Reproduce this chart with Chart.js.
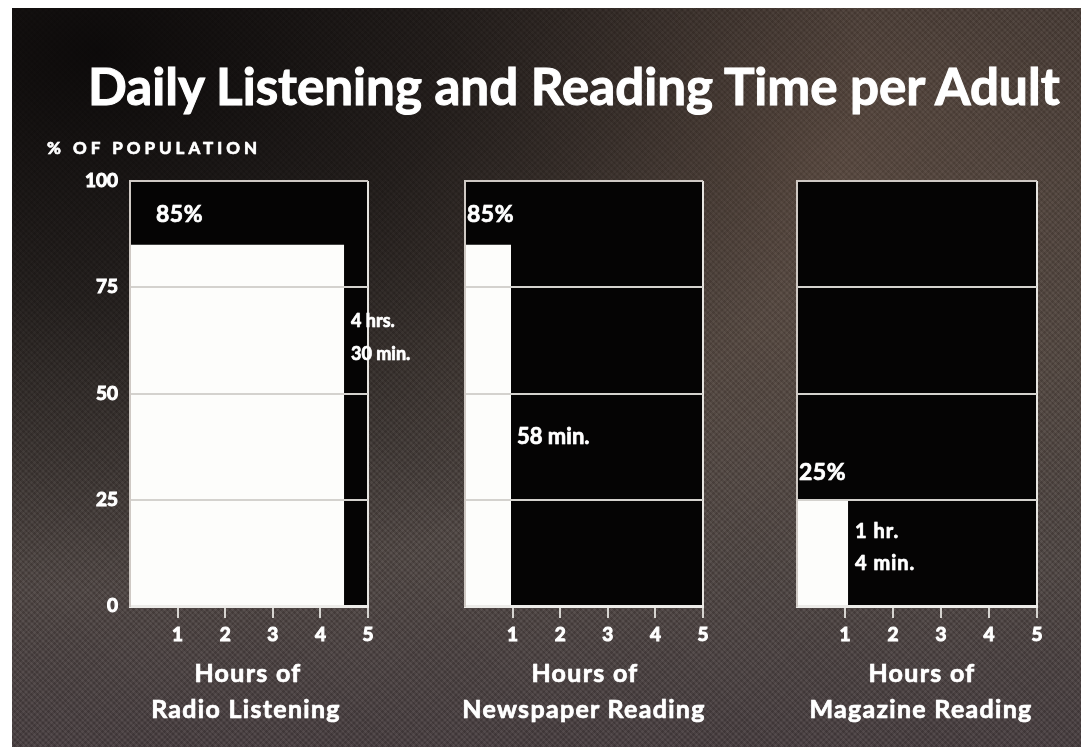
<!DOCTYPE html>
<html>
<head>
<meta charset="utf-8">
<script src="https://cdn.jsdelivr.net/npm/chart.js@4.4.1/dist/chart.umd.min.js"></script>
<style>
  html,body{margin:0;padding:0;background:#fff;}
  #stage{position:relative;width:1081px;height:747px;overflow:hidden;background:#fff;}
  #bg{position:absolute;left:12px;top:8px;right:0;bottom:0;
    background:
      radial-gradient(ellipse at 8% 6%, rgba(10,8,8,0.95) 0%, rgba(10,8,8,0.6) 25%, rgba(10,8,8,0) 55%),
      radial-gradient(ellipse at 75% 20%, rgba(120,92,75,0.35) 0%, rgba(120,92,75,0) 50%),
      repeating-linear-gradient(45deg, rgba(255,255,255,0.04) 0 2px, rgba(0,0,0,0.06) 2px 4px),
      repeating-linear-gradient(-45deg, rgba(255,255,255,0.035) 0 2px, rgba(0,0,0,0.06) 2px 4px),
      linear-gradient(180deg, #3c332f 0%, #4a413c 45%, #4d4441 75%, #463c3e 100%);}
  canvas{position:absolute;top:0;}
  .t{position:absolute;color:#fff;font-family:Lato,"Open Sans",sans-serif;font-weight:700;white-space:nowrap;line-height:1;
     -webkit-text-stroke:0.6px #fff;text-shadow:0 0 1px rgba(255,255,255,0.6);}
  .c{transform:translateX(-50%);text-align:center;}
</style>
</head>
<body>
<div id="stage">
  <div id="bg"></div>
  <canvas id="c0" width="400" height="747" style="left:0;width:400px;height:747px"></canvas>
  <canvas id="c1" width="340" height="747" style="left:400px;width:340px;height:747px"></canvas>
  <canvas id="c2" width="341" height="747" style="left:740px;width:341px;height:747px"></canvas>
  <div id="title" class="t" style="left:88px;top:60px;font-size:43px;-webkit-text-stroke:1px #fff;">Daily Listening and Reading Time per Adult</div>
  <div class="t" style="left:47px;top:139px;font-size:17px;letter-spacing:4px;">% OF POPULATION</div>

  <div class="t" style="left:156px;top:202px;font-size:23px;letter-spacing:0.5px;">85%</div>
  <div class="t" style="left:351px;top:311px;font-size:18px;">4 hrs.</div>
  <div class="t" style="left:351px;top:344px;font-size:18px;">30 min.</div>

  <div class="t" style="left:467px;top:202px;font-size:23px;letter-spacing:0.5px;">85%</div>
  <div class="t" style="left:517px;top:425px;font-size:22px;">58 min.</div>

  <div class="t" style="left:799px;top:460px;font-size:23px;letter-spacing:0.5px;">25%</div>
  <div class="t" style="left:855px;top:520px;font-size:20px;letter-spacing:1px;">1 hr.</div>
  <div class="t" style="left:855px;top:552px;font-size:20px;letter-spacing:1px;">4 min.</div>

  <div class="t c" style="left:248px;top:660px;font-size:25px;letter-spacing:1.3px;">Hours of</div>
  <div class="t c" style="left:246px;top:696px;font-size:25px;letter-spacing:1.3px;">Radio Listening</div>
  <div class="t c" style="left:585px;top:660px;font-size:25px;letter-spacing:1.3px;">Hours of</div>
  <div class="t c" style="left:584px;top:696px;font-size:25px;letter-spacing:1.3px;">Newspaper Reading</div>
  <div class="t c" style="left:922px;top:660px;font-size:25px;letter-spacing:1.3px;">Hours of</div>
  <div class="t c" style="left:921px;top:696px;font-size:25px;letter-spacing:1.3px;">Magazine Reading</div>
</div>
<script>
// ---- data ----
const activities = ['Radio Listening', 'Newspaper Reading', 'Magazine Reading'];
const percentOfPopulation = [85, 85, 25];
const dailyMinutes = [270, 58, 64];
const hourTicks = [1, 2, 3, 4, 5];
const percentTicks = [0, 25, 50, 75, 100];
const hoursMax = 5;
const percentMax = 100;

// ---- layout of each panel (canvas-level) ----
const panelLayout = [
  {id:'c0', yWidth:130, padRight:32, showY:true},
  {id:'c1', yWidth:65,  padRight:37, showY:false},
  {id:'c2', yWidth:57,  padRight:44, showY:false}
];

const FONT = 'Lato, "Open Sans", sans-serif';

activities.forEach((name, i) => {
  const L = panelLayout[i];
  const hours = dailyMinutes[i] / 60;
  new Chart(document.getElementById(L.id), {
    type: 'scatter',
    data: {
      datasets: [
        {
          label: name,
          order: 1,
          data: [{x:0, y:percentOfPopulation[i]}, {x:hours, y:percentOfPopulation[i]}],
          showLine: true, fill: 'origin',
          backgroundColor: '#fdfdfb', borderWidth: 0, pointRadius: 0
        },
        {
          label: 'scale',
          order: 2,
          data: [{x:0, y:percentMax}, {x:hoursMax, y:percentMax}],
          showLine: true, fill: 'origin',
          backgroundColor: '#050404', borderWidth: 0, pointRadius: 0
        }
      ]
    },
    options: {
      responsive: false, animation: false, devicePixelRatio: 1,
      layout: {padding: {top: 181, bottom: 101, left: 0, right: L.padRight}},
      plugins: {legend: {display: false}, tooltip: {enabled: false}, title: {display: false}},
      scales: {
        x: {
          type: 'linear', min: 0, max: hoursMax,
          afterBuildTicks: s => { s.ticks = hourTicks.map(v => ({value: v})); },
          afterFit: s => { s.height = 40; },
          grid: {
            z: 1,
            drawOnChartArea: true, drawTicks: true, tickLength: 12, tickWidth: 2,
            lineWidth: 2,
            color: c => (c.tick && c.tick.value === hoursMax) ? '#e6e4e0' : 'rgba(0,0,0,0)',
            tickColor: '#d6d4d0'
          },
          border: {display: true, color: '#ecebe8', width: 3, z: 2},
          ticks: {color: '#fff', font: {family: FONT, size: 19, weight: 'bold'}, padding: 5, maxRotation: 0, z: 2,
                  textStrokeColor: '#fff', textStrokeWidth: 1}
        },
        y: {
          type: 'linear', min: 0, max: percentMax,
          afterBuildTicks: s => { s.ticks = percentTicks.map(v => ({value: v})); },
          afterFit: s => { s.width = L.yWidth; },
          grid: {
            z: 1,
            drawTicks: false,
            lineWidth: 2,
            color: c => {
              const v = c.tick ? c.tick.value : null;
              if (v === 0) return 'rgba(0,0,0,0)';
              if (v === percentMax) return '#cfc9c4';
              return '#d4d2ce';
            }
          },
          border: {display: true, color: '#cfc9c4', width: 2, z: 2},
          ticks: {display: L.showY, color: '#fff', font: {family: FONT, size: 19, weight: 'bold'}, padding: 12, z: 2,
                  textStrokeColor: '#fff', textStrokeWidth: 1}
        }
      }
    }
  });
});

// fit title width to reference span
(function(){
  const t = document.getElementById('title');
  const w = t.getBoundingClientRect().width;
  const target = 972;
  t.style.fontSize = (43 * target / w).toFixed(2) + 'px';
})();
</script>
</body>
</html>
